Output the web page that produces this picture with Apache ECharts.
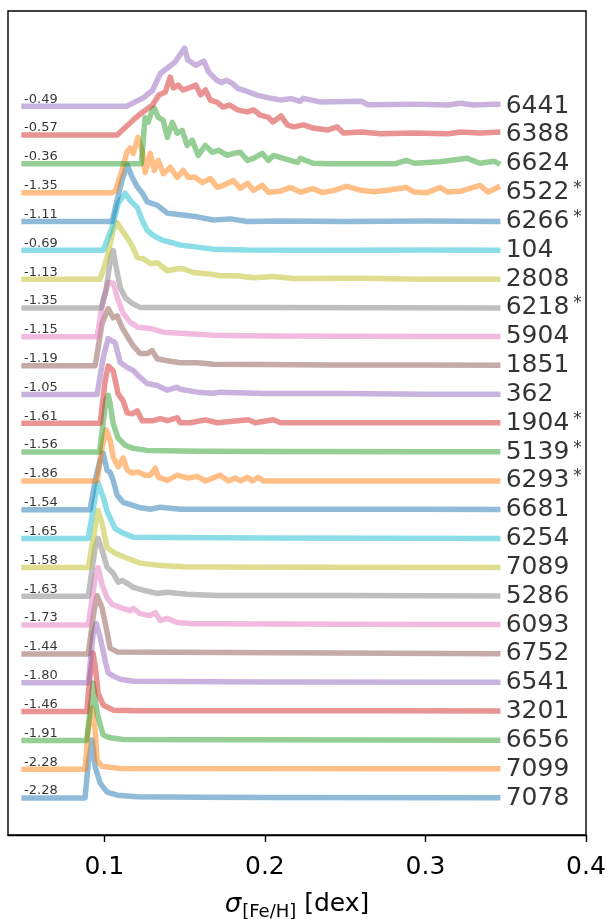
<!DOCTYPE html>
<html>
<head>
<meta charset="utf-8">
<script src="https://cdn.jsdelivr.net/npm/echarts@6/dist/echarts.min.js"></script>
<style>
  html, body { margin: 0; padding: 0; background: #fff; }
  #chart { width: 609px; height: 919px; }
</style>
</head>
<body>
<div id="chart"></div>
<script>
// Globular clusters, bottom to top of the stack
const clusters = ['7078','7099','6656','3201','6541','6752','6093','5286','7089','6254','6681','6293','5139','1904','362','1851','5904','6218','2808','104','6266','6522','6624','6388','6441'];
// [Fe/H] of each cluster
const feh = ['-2.28','-2.28','-1.91','-1.46','-1.80','-1.44','-1.73','-1.63','-1.58','-1.65','-1.54','-1.86','-1.56','-1.61','-1.05','-1.19','-1.15','-1.35','-1.13','-0.69','-1.11','-1.35','-0.36','-0.57','-0.49'];
// clusters marked with an asterisk
const flagged = ['6522','6266','6218','1904','5139','6293'];
// x-axis ticks (dex)
const sigmaTicks = [0.1, 0.2, 0.3, 0.4];

// Posterior density of sigma_[Fe/H]: [sigma (dex), density (scaled)]
const curve7078 = [[0.050,0],[0.088,0],[0.090,1.21],[0.0924,2.01],[0.0943,1.08],[0.0974,0.52],[0.1017,0.21],[0.108,0.10],[0.1205,0.05],[0.16,0.03],[0.2,0.02],[0.345,0.01]];
const curve7099 = [[0.050,0],[0.088,0],[0.0899,1.35],[0.0924,2.12],[0.0943,1.35],[0.0955,0.31],[0.0986,0.10],[0.110,0.03],[0.345,0.02]];
const curve6656 = [[0.050,0],[0.089,0],[0.0918,1.40],[0.093,1.99],[0.0943,1.45],[0.0955,0.95],[0.0974,0.55],[0.0993,0.19],[0.1036,0.09],[0.112,0.03],[0.345,0.01]];
const curve3201 = [[0.050,0],[0.089,0],[0.091,1.2],[0.093,2.03],[0.0943,1.55],[0.0955,1.0],[0.0961,0.64],[0.0993,0.23],[0.1055,0.05],[0.12,0.03],[0.2,0.03],[0.28,0.03],[0.345,0.02]];
const curve6541 = [[0.050,0],[0.090,0],[0.093,1.70],[0.095,2.05],[0.0974,1.57],[0.0993,1.11],[0.1005,0.77],[0.1024,0.35],[0.105,0.25],[0.110,0.12],[0.118,0.05],[0.2,0.03],[0.345,0.02]];
const curve6752 = [[0.050,0],[0.090,0],[0.0936,1.50],[0.0955,2.02],[0.0986,1.6],[0.1017,0.75],[0.1036,0.2],[0.108,0.07],[0.345,0.01]];
const curve6093 = [[0.050,0],[0.090,0],[0.0943,1.65],[0.0961,1.99],[0.0986,1.4],[0.1017,0.95],[0.1049,0.72],[0.1099,0.61],[0.1161,0.50],[0.118,0.58],[0.1223,0.40],[0.1286,0.33],[0.1317,0.43],[0.1348,0.16],[0.1392,0.23],[0.1454,0.09],[0.1554,0.05],[0.170,0.05],[0.25,0.03],[0.3,0.02],[0.345,0.02]];
const curve5286 = [[0.050,0],[0.090,0],[0.0943,1.70],[0.0961,2.01],[0.0986,1.60],[0.1017,1.01],[0.1055,0.80],[0.1086,0.49],[0.1111,0.55],[0.1142,0.45],[0.118,0.31],[0.1242,0.21],[0.1329,0.10],[0.1392,0.14],[0.1516,0.07],[0.170,0.03],[0.25,0.03],[0.345,0.01]];
const curve7089 = [[0.050,0],[0.090,0],[0.0943,1.39],[0.0961,1.98],[0.0986,1.53],[0.1017,0.69],[0.1067,0.49],[0.1142,0.32],[0.1223,0.15],[0.1329,0.08],[0.149,0.02],[0.2,0.01],[0.345,0]];
const curve6254 = [[0.050,0],[0.0899,0],[0.0943,1.44],[0.0961,1.93],[0.0993,1.44],[0.1017,0.95],[0.1067,0.35],[0.1117,0.19],[0.118,0.05],[0.2,0.02],[0.345,0]];
const curve6681 = [[0.050,0],[0.0911,0],[0.0943,1.02],[0.0974,1.72],[0.0993,1.96],[0.1017,1.37],[0.1036,1.30],[0.1055,1.02],[0.108,0.50],[0.1117,0.26],[0.1173,0.16],[0.1211,0.09],[0.1286,0.02],[0.1348,0.09],[0.1473,0.02],[0.2,0.02],[0.3,0.02],[0.345,0.01]];
const curve6293 = [[0.050,0],[0.0955,0],[0.0986,1.18],[0.1011,1.77],[0.1036,1.42],[0.1055,0.83],[0.1086,0.49],[0.1117,0.80],[0.1142,0.38],[0.1173,0.27],[0.1211,0.31],[0.1254,0.20],[0.1286,0.20],[0.1317,0.44],[0.1336,0.13],[0.1392,0.02],[0.1454,0.20],[0.1523,0.10],[0.1579,0.16],[0.1629,0],[0.1722,0.20],[0.1772,0],[0.1816,0.10],[0.1847,0],[0.1891,0.13],[0.1922,0],[0.1959,0.13],[0.199,0],[0.345,0]];
const curve5139 = [[0.050,0],[0.097,0],[0.099,0.9],[0.101,1.8],[0.1024,1.97],[0.1036,1.69],[0.1055,1.00],[0.1086,0.48],[0.113,0.24],[0.118,0.13],[0.1267,0.06],[0.16,0.03],[0.2,0.02],[0.3,0.01],[0.345,0.01]];
const curve1904 = [[0.050,0],[0.0974,0],[0.1005,1.47],[0.1024,1.99],[0.1055,1.82],[0.1086,1.02],[0.1117,0.78],[0.1142,0.36],[0.1173,0.33],[0.1205,0.43],[0.1236,0.09],[0.1304,0.09],[0.1348,0.16],[0.1392,0.09],[0.1454,0.19],[0.1473,0.02],[0.1535,0.02],[0.1629,0.12],[0.1704,0.02],[0.1897,0.12],[0.194,0.02],[0.2053,0.12],[0.2097,0.02],[0.3,0.02],[0.345,0.02]];
const curve362 = [[0.050,0],[0.0955,0],[0.0993,1.28],[0.1024,1.94],[0.1067,1.80],[0.1099,1.11],[0.1142,0.94],[0.118,0.83],[0.1223,0.59],[0.1267,0.38],[0.1329,0.31],[0.1392,0.15],[0.1454,0.25],[0.1473,0.18],[0.1579,0.08],[0.1679,0.04],[0.1722,0.08],[0.2,0.03],[0.25,0.03],[0.3,0.01],[0.345,0.01]];
const curve1851 = [[0.050,0],[0.0943,0],[0.0986,1.46],[0.1024,1.98],[0.1055,1.66],[0.108,1.73],[0.1111,1.32],[0.1148,0.97],[0.118,0.69],[0.1223,0.42],[0.1267,0.42],[0.1298,0.52],[0.1329,0.24],[0.1392,0.17],[0.1473,0.10],[0.1579,0.10],[0.1679,0.05],[0.2,0.04],[0.24,0.02],[0.3,0.02],[0.345,0.01]];
const curve5904 = [[0.050,0],[0.0955,0],[0.0993,1.27],[0.1024,1.89],[0.1055,1.86],[0.1086,1.27],[0.1117,0.82],[0.1161,0.50],[0.1211,0.33],[0.1286,0.29],[0.1367,0.16],[0.1473,0.12],[0.1579,0.09],[0.1679,0.05],[0.2,0.03],[0.25,0.02],[0.3,0.01],[0.345,0.01]];
const curve6218 = [[0.050,0],[0.098,0],[0.101,0.6],[0.104,1.75],[0.1055,1.99],[0.1074,1.40],[0.1099,0.71],[0.113,0.36],[0.1173,0.16],[0.1223,0.02],[0.2,0.02],[0.345,0]];
const curve2808 = [[0.050,0],[0.0974,0],[0.1017,0.75],[0.1055,1.68],[0.108,1.96],[0.1111,1.68],[0.1142,1.44],[0.1173,1.16],[0.1205,0.75],[0.1242,0.71],[0.1286,0.54],[0.1329,0.57],[0.1392,0.29],[0.1454,0.36],[0.1491,0.36],[0.1554,0.23],[0.1641,0.19],[0.1722,0.12],[0.1828,0.12],[0.1928,0.05],[0.2053,0.09],[0.2178,0.02],[0.26,0.03],[0.3,0.0],[0.345,0.0]];
const curve104 = [[0.050,0],[0.0993,0],[0.1049,0.80],[0.1086,1.63],[0.113,1.98],[0.1161,1.73],[0.1205,1.49],[0.1236,1.04],[0.1267,0.69],[0.1304,0.52],[0.1361,0.35],[0.141,0.28],[0.1473,0.18],[0.1579,0.11],[0.1679,0.04],[0.1891,0.01],[0.25,0],[0.3,0.01],[0.345,0]];
const curve6266 = [[0.050,0],[0.1049,0],[0.108,0.75],[0.1111,1.44],[0.1142,1.96],[0.1173,1.54],[0.1205,1.20],[0.1236,0.99],[0.1267,0.68],[0.1329,0.57],[0.1392,0.29],[0.1473,0.23],[0.1579,0.16],[0.1679,0.05],[0.1785,0.09],[0.1891,0],[0.2097,0.02],[0.25,0],[0.3,0.02],[0.345,0]];
const curve6522 = [[0.050,0],[0.1049,0],[0.107,0.07],[0.111,0.77],[0.114,1.40],[0.116,1.54],[0.118,1.36],[0.121,1.92],[0.1236,1.47],[0.1254,0.70],[0.1286,1.36],[0.1311,0.77],[0.1336,1.12],[0.1367,0.66],[0.141,0.88],[0.1454,0.53],[0.1491,0.77],[0.1523,0.53],[0.1566,0.53],[0.161,0.35],[0.166,0.49],[0.1704,0.18],[0.1741,0.25],[0.1803,0.42],[0.1847,0.15],[0.1891,0.32],[0.1928,0.08],[0.1984,0.25],[0.2022,0.01],[0.2097,0.05],[0.216,0.18],[0.222,0.02],[0.230,0.14],[0.236,0.0],[0.243,0.08],[0.251,0.22],[0.260,0.08],[0.268,0.03],[0.276,0.08],[0.288,0.18],[0.293,0.02],[0.301,0.0],[0.309,0.18],[0.314,0.02],[0.322,0.05],[0.334,0.25],[0.339,0.02],[0.345,0.18]];
const curve6624 = [[0.050,0],[0.123,0],[0.1254,1.61],[0.1273,1.44],[0.1298,1.86],[0.1311,1.93],[0.1336,1.61],[0.1367,1.51],[0.1392,0.92],[0.1423,1.44],[0.1454,1.06],[0.1485,1.16],[0.1516,0.64],[0.1548,0.82],[0.1585,0.29],[0.1629,0.64],[0.1672,0.40],[0.171,0.47],[0.1766,0.29],[0.1803,0.36],[0.1847,0.40],[0.1891,0.12],[0.1928,0.19],[0.1984,0.36],[0.2022,0.12],[0.2053,0.29],[0.2115,0.19],[0.2203,0.05],[0.2221,0.19],[0.230,0.02],[0.239,0],[0.281,0],[0.288,0.12],[0.293,0.02],[0.309,0.07],[0.326,0.19],[0.334,0.02],[0.343,0.09],[0.345,0.02]];
const curve6388 = [[0.050,0],[0.108,0],[0.118,0.52],[0.124,0.80],[0.130,1.04],[0.134,1.39],[0.138,1.49],[0.141,2.01],[0.143,1.63],[0.146,1.73],[0.149,1.56],[0.154,1.66],[0.157,1.73],[0.160,1.39],[0.163,1.56],[0.166,1.21],[0.170,1.14],[0.174,0.97],[0.178,1.04],[0.183,0.87],[0.189,0.80],[0.193,0.87],[0.197,0.69],[0.202,0.62],[0.205,0.45],[0.210,0.66],[0.214,0.35],[0.218,0.28],[0.224,0.35],[0.230,0.24],[0.239,0.17],[0.245,0.28],[0.249,0.07],[0.260,0.10],[0.272,0.04],[0.293,0.07],[0.314,0.04],[0.322,0.10],[0.334,0.07],[0.345,0.10]];
const curve6441 = [[0.050,0],[0.114,0],[0.124,0.28],[0.130,0.55],[0.135,1.14],[0.140,1.35],[0.144,1.53],[0.147,1.77],[0.150,2.01],[0.152,1.60],[0.157,1.42],[0.162,1.56],[0.165,1.18],[0.170,0.90],[0.173,0.82],[0.176,0.90],[0.180,0.78],[0.183,0.62],[0.187,0.55],[0.195,0.38],[0.203,0.28],[0.210,0.21],[0.216,0.26],[0.222,0.17],[0.224,0.27],[0.235,0.14],[0.260,0.17],[0.264,0.05],[0.293,0.07],[0.314,0.04],[0.322,0.10],[0.330,0.04],[0.343,0.07],[0.345,0.07]];

const curves = [curve7078, curve7099, curve6656, curve3201, curve6541, curve6752, curve6093, curve5286, curve7089, curve6254,
                curve6681, curve6293, curve5139, curve1904, curve362, curve1851, curve5904, curve6218, curve2808, curve104,
                curve6266, curve6522, curve6624, curve6388, curve6441];

const palette = ['#1f77b4','#ff7f0e','#2ca02c','#d62728','#9467bd','#8c564b','#e377c2','#7f7f7f','#bcbd22','#17becf'];
const FONT = 'DejaVu Sans';
const xStart = 0.05, xEnd = 0.345;

const series = curves.map((c, i) => ({
  type: 'line',
  name: clusters[i],
  data: c.map(p => [p[0], p[1] + i]),
  showSymbol: false,
  symbol: 'none',
  silent: true,
  z: 2,
  lineStyle: { color: palette[i % 10], width: 5.5, opacity: 0.5, cap: 'square', join: 'round' }
}));

// [Fe/H] labels above the left end of each curve
series.push({
  type: 'scatter', silent: true, z: 5, symbolSize: 1,
  itemStyle: { color: 'rgba(0,0,0,0)' },
  data: clusters.map((c, i) => [xStart, i]),
  label: {
    show: true, position: 'inside', align: 'left', verticalAlign: 'middle', offset: [0, -7],
    formatter: p => feh[p.dataIndex],
    fontSize: 13, fontFamily: FONT, color: '#000', textBorderWidth: 0
  }
});

// Cluster names at the right end of each curve
series.push({
  type: 'scatter', silent: true, z: 5, symbolSize: 1,
  itemStyle: { color: 'rgba(0,0,0,0)' },
  data: clusters.map((c, i) => [xEnd, i]),
  label: {
    show: true, position: 'inside', align: 'left', verticalAlign: 'middle', offset: [8, 0],
    formatter: p => {
      const c = clusters[p.dataIndex];
      return flagged.includes(c) ? '{n|' + c + '}{s|*}' : '{n|' + c + '}';
    },
    color: '#000', textBorderWidth: 0,
    rich: {
      n: { fontSize: 25, fontFamily: FONT, color: '#000' },
      s: { fontSize: 17, fontFamily: FONT, color: '#000', verticalAlign: 'top', padding: [0, 0, 0, 4] }
    }
  }
});

const chart = echarts.init(document.getElementById('chart'), null, { renderer: 'canvas' });
chart.setOption({
  animation: false,
  backgroundColor: '#fff',
  grid: { left: 8, right: 23, top: 11, bottom: 84, outerBoundsMode: 'none', containLabel: false, show: true, borderColor: '#000', borderWidth: 1.4, backgroundColor: 'transparent' },
  xAxis: {
    type: 'value', min: 0.04, max: 0.4,
    axisLine: { show: true, onZero: false, lineStyle: { color: '#000', width: 1.4 } },
    axisTick: { show: true, length: 7, customValues: sigmaTicks, lineStyle: { color: '#000', width: 1.4 } },
    axisLabel: { customValues: sigmaTicks, formatter: v => v.toFixed(1), fontSize: 25, fontFamily: FONT, color: '#000', margin: 20 },
    splitLine: { show: false },
    name: '{sig|σ}{sub|[Fe/H]}{txt| [dex]}',
    nameLocation: 'middle',
    nameGap: 57,
    nameTextStyle: {
      fontFamily: FONT, fontSize: 25, color: '#000',
      rich: {
        sig: { fontFamily: FONT, fontStyle: 'italic', fontSize: 26, color: '#000', verticalAlign: 'top', lineHeight: 28 },
        sub: { fontFamily: FONT, fontSize: 18, color: '#000', verticalAlign: 'top', lineHeight: 20, padding: [11, 0, 0, 1] },
        txt: { fontFamily: FONT, fontSize: 25, color: '#000', verticalAlign: 'top', lineHeight: 28 }
      }
    }
  },
  yAxis: { type: 'value', min: -1.28, max: 27.3, show: false },
  series: series
});
</script>
</body>
</html>
